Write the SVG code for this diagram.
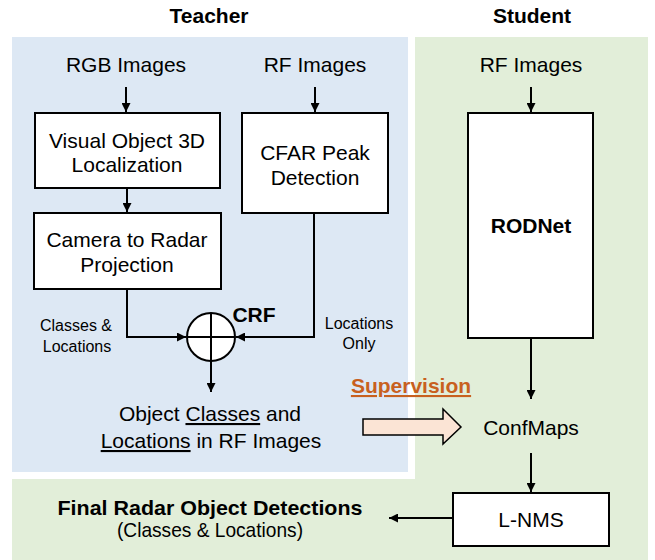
<svg xmlns="http://www.w3.org/2000/svg" width="655" height="560" viewBox="0 0 655 560">
<style>
text{font-family:"Liberation Sans",Arial,sans-serif;font-size:21px;fill:#000;text-anchor:middle}
.b{font-weight:bold}
.s{font-size:16px}
.box{fill:#fff;stroke:#000;stroke-width:2}
.ln{fill:none;stroke:#000;stroke-width:2}
</style>
<defs>
<marker id="ah" viewBox="0 0 10 10" refX="10" refY="5" markerWidth="4.5" markerHeight="4.5" orient="auto" markerUnits="strokeWidth">
<path d="M0,0 L10,5 L0,10 z" fill="#000"/>
</marker>
</defs>
<g id="backgrounds">
<rect x="12" y="37" width="636" height="523" fill="#e2eed9"/>
<rect x="12" y="37" width="403" height="442" fill="#fff"/>
<rect x="12" y="37" width="396" height="435" fill="#dde8f4"/>
</g>
<g id="titles">
<text class="b" x="209" y="23">Teacher</text>
<text class="b" x="532" y="23">Student</text>
</g>
<g id="rgb"><text x="126" y="72">RGB Images</text></g>
<g id="rf-teacher"><text x="315" y="72">RF Images</text></g>
<g id="rf-student"><text x="531" y="72">RF Images</text></g>
<g id="visual">
<rect class="box" x="35" y="113" width="185" height="75"/>
<text x="127" y="148">Visual Object 3D</text>
<text x="127" y="172">Localization</text>
</g>
<g id="cfar">
<rect class="box" x="242" y="113" width="146" height="100"/>
<text x="315" y="160">CFAR Peak</text>
<text x="315" y="185">Detection</text>
</g>
<g id="camera">
<rect class="box" x="34" y="213" width="187" height="76"/>
<text x="127" y="247">Camera to Radar</text>
<text x="127" y="272">Projection</text>
</g>
<g id="crf">
<circle cx="211" cy="337" r="24" fill="#fff" stroke="#000" stroke-width="2"/>
<line class="ln" x1="211" y1="313" x2="211" y2="361"/>
<line class="ln" x1="187" y1="337" x2="235" y2="337"/>
<text class="b" x="254" y="322">CRF</text>
</g>
<g id="teacher-output">
<text x="210" y="421">Object <tspan text-decoration="underline">Classes</tspan> and</text>
<text x="211" y="448"><tspan text-decoration="underline">Locations</tspan> in RF Images</text>
</g>
<g id="rodnet">
<rect class="box" x="468" y="113" width="125" height="225"/>
<text class="b" x="531" y="233">RODNet</text>
</g>
<g id="confmaps"><text x="531" y="435">ConfMaps</text></g>
<g id="lnms">
<rect class="box" x="453" y="493" width="156" height="53"/>
<text x="531" y="527">L-NMS</text>
</g>
<g id="final">
<text class="b" x="210" y="515" font-size="18" textLength="305" lengthAdjust="spacingAndGlyphs">Final Radar Object Detections</text>
<text x="210" y="537" font-size="16" textLength="186" lengthAdjust="spacingAndGlyphs">(Classes &amp; Locations)</text>
</g>
<g id="supervision">
<text class="b" x="411" y="393" fill="#c8601e" style="fill:#c8601e" text-decoration="underline">Supervision</text>
<polygon points="363,419 443,419 443,409 461,427 443,444 443,435 363,435" fill="#fbe4d5" stroke="#000" stroke-width="1.5"/>
</g>
<g id="connectors">
<line class="ln" x1="126" y1="87" x2="126" y2="112" marker-end="url(#ah)"/>
<line class="ln" x1="315" y1="87" x2="315" y2="112" marker-end="url(#ah)"/>
<line class="ln" x1="531" y1="87" x2="531" y2="112" marker-end="url(#ah)"/>
<line class="ln" x1="127" y1="188" x2="127" y2="212" marker-end="url(#ah)"/>
<polyline class="ln" points="127,289 127,337 186,337" marker-end="url(#ah)"/>
<polyline class="ln" points="314,213 314,337 236,337" marker-end="url(#ah)"/>
<line class="ln" x1="211" y1="361" x2="211" y2="392" marker-end="url(#ah)"/>
<line class="ln" x1="531" y1="338" x2="531" y2="399" marker-end="url(#ah)"/>
<line class="ln" x1="531" y1="453" x2="531" y2="492" marker-end="url(#ah)"/>
<line class="ln" x1="453" y1="518" x2="389" y2="518" marker-end="url(#ah)"/>
</g>
<g id="labels">
<text class="s" x="76" y="331">Classes &amp;</text>
<text class="s" x="77" y="352">Locations</text>
<text class="s" x="359" y="329">Locations</text>
<text class="s" x="359" y="349">Only</text>
</g>
</svg>
